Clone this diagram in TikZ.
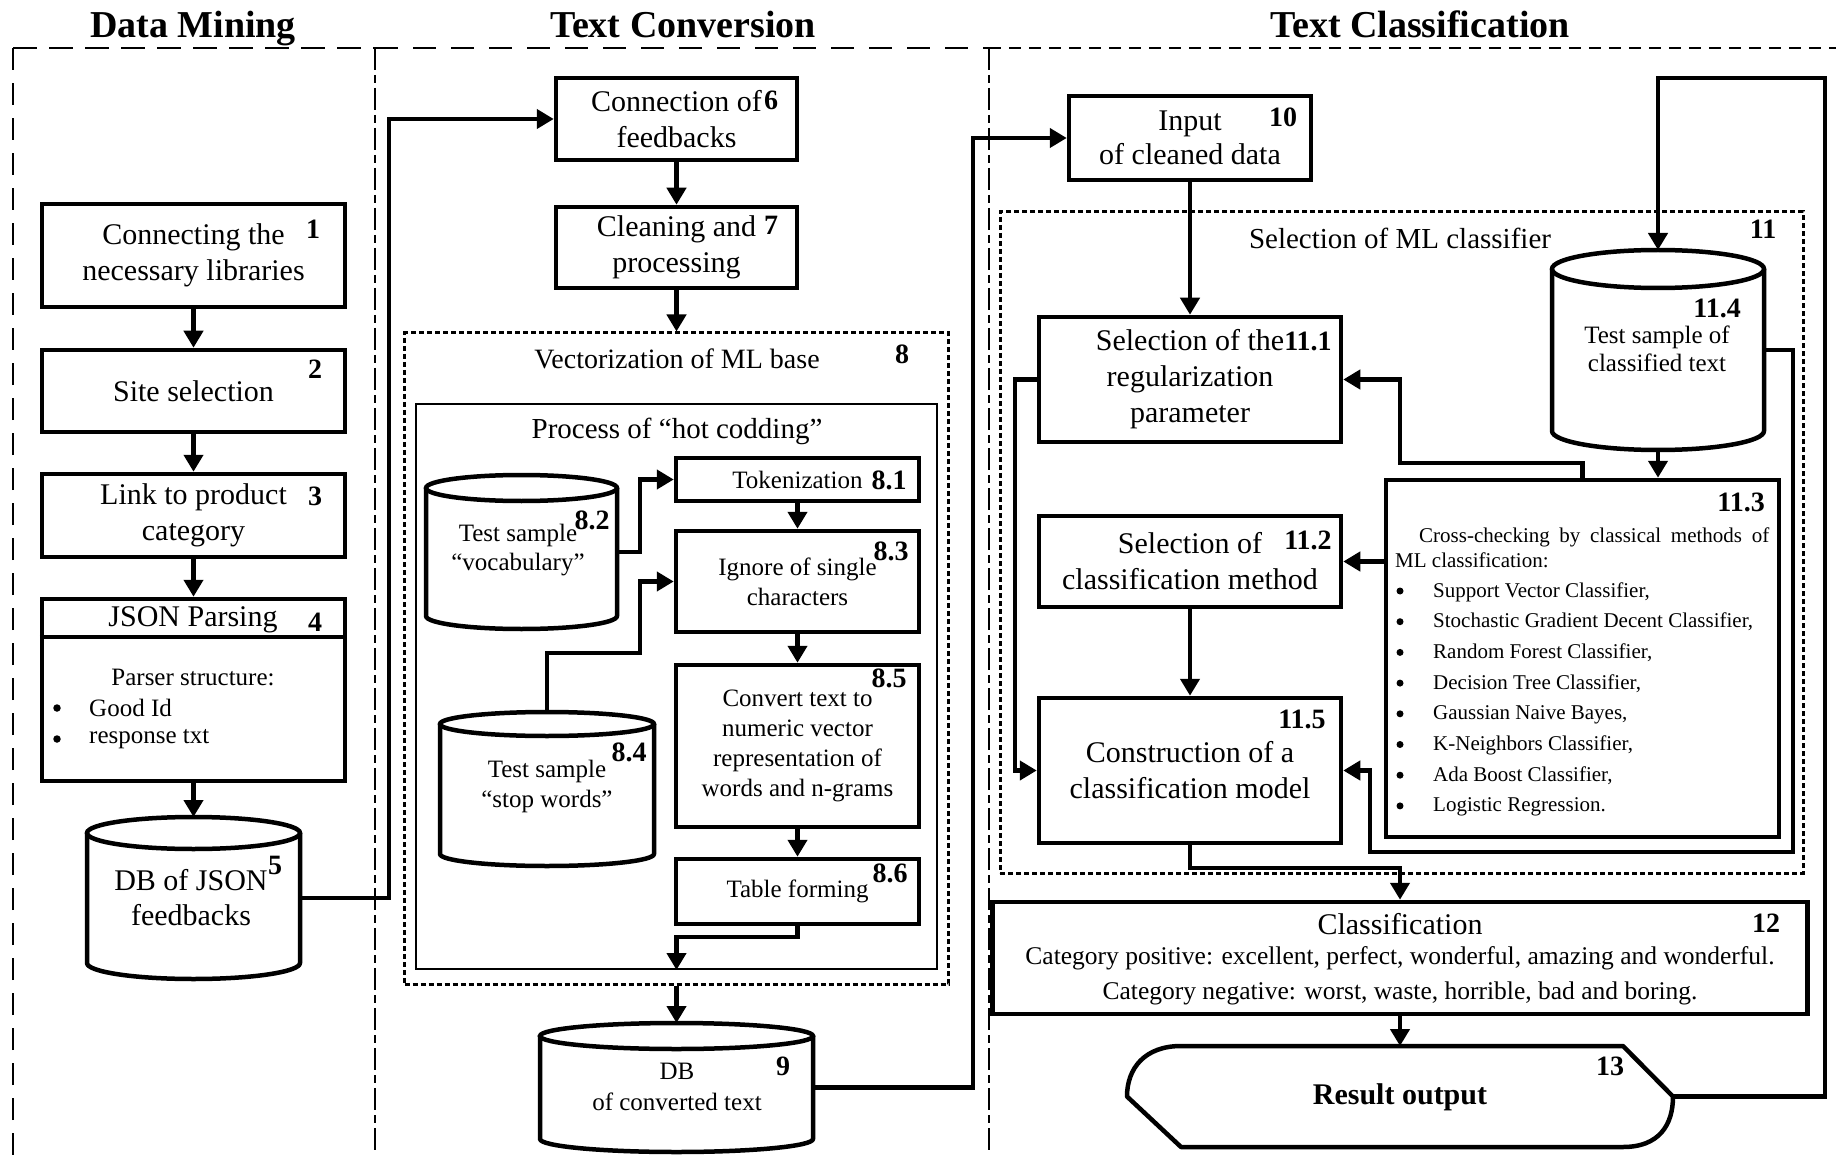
\documentclass[tikz,border=0pt]{standalone}
\usepackage{fontspec}
\setmainfont{Liberation Serif}
\usetikzlibrary{arrows.meta}
\newcommand\fsM{\fontsize{30}{36}\selectfont}
\newcommand\fsS{\fontsize{25}{30}\selectfont}
\newcommand\fsX{\fontsize{21}{25}\selectfont}
\newcommand\fsN{\bfseries\fontsize{28}{28}\selectfont}
\newcommand\fsT{\bfseries\fontsize{38}{38}\selectfont}
% cylinder outline: x1 y1 x2 y2 ry
\newcommand\cylshape[5]{%
  \draw[line width=4.5pt, line join=round]
   (#1,{#2+#5}) -- (#1,{#4-#5})
   .. controls (#1,{#4-#5+0.5523*#5}) and ({(#1+#3)/2-0.5523*(#3-#1)/2},#4) .. ({(#1+#3)/2},#4)
   .. controls ({(#1+#3)/2+0.5523*(#3-#1)/2},#4) and (#3,{#4-#5+0.5523*#5}) .. (#3,{#4-#5})
   -- (#3,{#2+#5});
  \draw[line width=4.5pt] ({(#1+#3)/2},{#2+#5}) ellipse [x radius={(#3-#1)/2}, y radius=#5];
}
\begin{document}
\begin{tikzpicture}[x=1pt,y=-1pt,
  box/.style={draw, line width=4.5pt, inner sep=0pt, align=center, font=\fsM},
  dotbox/.style={draw, line width=3pt, dash pattern=on 5pt off 3pt, inner sep=0pt},
  ghost/.style={inner sep=0pt, outer sep=0pt},
  conn/.style={line width=4.5pt, -{Triangle[length=17pt,width=19pt]}},
  num/.style={font=\fsN, inner sep=0pt},
  txt/.style={inner sep=0pt, align=center, font=\fsM},
  stxt/.style={inner sep=0pt, align=center, font=\fsS},
  xtxt/.style={inner sep=0pt, font=\fsX},
  ttl/.style={inner sep=0pt, font=\fsT, anchor=base},
  dot/.style={circle, fill, inner sep=0pt, minimum size=#1},
  dot/.default=7.5pt,
  pagedash/.style={line width=1.8pt},
  coldiv/.style={line width=1.8pt, dash pattern=on 22pt off 5pt on 8pt off 5pt},
]
\path[fill=white, use as bounding box] (0,0) rectangle (1836,1155);

% ---------- page frame ----------
\draw[pagedash, dash pattern=on 22pt off 13pt] (13,1155) -- (13,48);
\draw[pagedash, dash pattern=on 24pt off 12pt] (13,48) -- (375,48);
\draw[pagedash, dash pattern=on 23pt off 15pt] (375,48) -- (989,48);
\draw[pagedash, dash pattern=on 12pt off 8pt] (989,48) -- (1836,48);
\draw[coldiv] (375,48) -- (375,1155);
\draw[coldiv] (989,48) -- (989,1155);

\node[ttl] (t1) at (193,38) {Data Mining};
\node[ttl] (t2) at (683,38) {Text Conversion};
\node[ttl] (t3) at (1420,38) {Text Classification};

% ---------- Data Mining ----------
\node[box, minimum width=303pt, minimum height=103pt] (b1) at (193.5,255.5) {Connecting the\\necessary libraries};
\node[num] at (313,229) {1};
\node[box, minimum width=303pt, minimum height=82pt] (b2) at (193.5,391) {Site selection};
\node[num] at (315,369) {2};
\node[box, minimum width=303pt, minimum height=83pt] (b3) at (193.5,515.5) {Link to product\\category};
\node[num] at (315,496) {3};
\node[box, minimum width=303pt, minimum height=182pt] (b4) at (193.5,690) {};
\draw[line width=4.5pt] (b4.west |- 0,637) -- (b4.east |- 0,637);
\node[txt] (b4h) at (193,620) {JSON Parsing};
\node[num] at (315,622) {4};
\node[stxt] (b4t) at (193,677) {Parser structure:};
\node[dot] (b4d1) at (57,708) {};
\node[stxt, anchor=west] (b4i1) at (89,708) {Good Id};
\node[dot] (b4d2) at (57,739) {};
\node[stxt, anchor=west] (b4i2) at (89,739) {response txt};

\node[ghost, minimum width=213pt, minimum height=162pt] (c5) at (193.5,898) {};
\cylshape{87}{817}{300}{979}{16}
\node[txt, font=\fontsize{30}{35}\selectfont] at (191,898) {DB of JSON\\feedbacks};
\node[num] at (275,865) {5};

\draw[conn] (b1.south) -- (b2.north);
\draw[conn] (b2.south) -- (b3.north);
\draw[conn] (b3.south) -- (b4.north);
\draw[conn] (b4.south) -- (c5.north);

% ---------- Text Conversion ----------
\node[box, minimum width=241pt, minimum height=82pt] (b6) at (676.5,119) {Connection of\\feedbacks};
\node[num] at (771,100) {6};
\node[box, minimum width=241pt, minimum height=81pt] (b7) at (676.5,247.5) {Cleaning and\\processing};
\node[num] at (771,225) {7};
\draw[conn] (c5.east) -- (389,898) |- (b6.west);
\draw[conn] (b6.south) -- (b7.north);

\node[dotbox, minimum width=544pt, minimum height=651pt] (d8) at (676.5,658.5) {};
\draw[conn] (b7.south) -- (d8.north);
\node[txt, font=\fontsize{28}{28}\selectfont] at (677,359) {Vectorization of ML base};
\node[num] at (902,354) {8};
\node[draw, line width=2pt, inner sep=0pt, minimum width=521pt, minimum height=565pt] (in8) at (676.5,686.5) {};
\node[txt, font=\fontsize{29}{29}\selectfont] at (677,431) {Process of “hot codding”};

\node[box, font=\fsS, minimum width=243pt, minimum height=43pt] (b81) at (797.5,479.5) {Tokenization};
\node[num] at (889,480) {8.1};
\node[box, font=\fsS, minimum width=243pt, minimum height=101pt] (b83) at (797.5,581.5) {Ignore of single\\characters};
\node[num] at (891,551) {8.3};
\node[box, font=\fsS, minimum width=243pt, minimum height=162pt] (b85) at (797.5,746) {Convert text to\\numeric vector\\representation of\\words and n-grams};
\node[num] at (889,678) {8.5};
\node[box, font=\fsS, minimum width=243pt, minimum height=65pt] (b86) at (797.5,891.5) {Table forming};
\node[num] at (890,873) {8.6};

\node[ghost, minimum width=191pt, minimum height=154pt] (c82) at (521.5,552) {};
\cylshape{426}{475}{617}{629}{13}
\node[stxt, font=\fontsize{25}{29}\selectfont] at (518,550) {Test sample\\“vocabulary”};
\node[num] at (592,520) {8.2};
\node[ghost, minimum width=214pt, minimum height=154pt] (c84) at (547,789) {};
\cylshape{440}{712}{654}{866}{12}
\node[stxt, font=\fontsize{25}{30}\selectfont] at (547,786) {Test sample\\“stop words”};
\node[num] at (629,752) {8.4};

\draw[conn] (c82.east) -- (640,552) |- (b81.west);
\draw[conn] (c84.north) |- (640,653) |- (b83.west);
\draw[conn] (b81.south) -- (b83.north);
\draw[conn] (b83.south) -- (b85.north);
\draw[conn] (b85.south) -- (b86.north);
\draw[conn] (b86.south) -- (797.5,937) -| (in8.south);

\node[ghost, minimum width=273pt, minimum height=129pt] (c9) at (676.5,1087.5) {};
\cylshape{540}{1023}{813}{1152}{13}
\node[stxt, font=\fontsize{25}{31}\selectfont] at (677,1087) {DB\\of converted text};
\node[num] at (783,1066) {9};
\draw[conn] (d8.south) -- (c9.north);

% ---------- Text Classification ----------
\node[box, font=\fontsize{30}{34}\selectfont, minimum width=242pt, minimum height=84pt] (b10) at (1190,138) {Input\\of cleaned data};
\node[num] at (1283,117) {10};
\draw[conn] (c9.east) -- (973,1087.5) |- (b10.west);
\node[dotbox, minimum width=803pt, minimum height=661pt] (d11) at (1401.5,542.5) {};
\node[txt, font=\fontsize{29}{29}\selectfont] at (1400,238) {Selection of ML classifier};
\node[num] at (1763,229) {11};

\node[box, minimum width=302pt, minimum height=125pt] (b111) at (1190,379.5) {Selection of the\\regularization\\parameter};
\node[num] at (1308,341) {11.1};
\node[box, minimum width=302pt, minimum height=91pt] (b112) at (1190,561.5) {Selection of\\classification method};
\node[num] at (1308,540) {11.2};
\node[box, minimum width=302pt, minimum height=145pt] (b115) at (1190,770.5) {Construction of a\\classification model};
\node[num] at (1302,719) {11.5};

\node[box, minimum width=393pt, minimum height=357pt] (b113) at (1582.5,658.5) {};
\node[num] at (1741,502) {11.3};
\node[xtxt, anchor=west] at (1419,537) {\makebox[350pt][s]{Cross-checking by classical methods of}\strut};
\node[xtxt, anchor=west] at (1395,562) {ML classification:\strut};
\foreach \t [count=\i from 0] in {{Support Vector Classifier,},{Stochastic Gradient Decent Classifier,},{Random Forest Classifier,},{Decision Tree Classifier,},{Gaussian Naive Bayes,},{K-Neighbors Classifier,},{Ada Boost Classifier,},{Logistic Regression.}}{
  \node[dot=7pt] at (1400,{591+30.7*\i}) {};
  \node[xtxt, anchor=west] at (1433,{592+30.7*\i}) {\t\strut};
}

\node[ghost, minimum width=212pt, minimum height=200pt] (c114) at (1658,350) {};
\cylshape{1552}{250}{1764}{450}{19}
\node[stxt, font=\fontsize{25}{28}\selectfont] at (1657,349) {Test sample of\\classified text};
\node[num] at (1717,308) {11.4};

\draw[conn] (b10.south) -- (b111.north);
\draw[conn] (b113.west |- b112.east) -- (b112.east);
\draw[conn] (b112.south) -- (b115.north);
\draw[conn] (c114.south) -- (c114.south |- b113.north);
\draw[conn] (b113.north) |- (1400,463) |- (b111.east);
\draw[conn] (b111.west) -- (1015,379.5) |- (b115.west);
\draw[conn] (c114.east) -- (1793,350) |- (1370,852) |- (b115.east);

\node[box, minimum width=815pt, minimum height=112pt] (b12) at (1400,958) {};
\node[txt] at (1400,924) {Classification};
\node[num] at (1766,923) {12};
\node[stxt, font=\fontsize{25.5}{30}\selectfont] at (1400,958) {Category positive: excellent, perfect, wonderful, amazing and wonderful.};
\node[stxt, font=\fontsize{25.5}{30}\selectfont] at (1400,993) {Category negative: worst, waste, horrible, bad and boring.};
\draw[conn] (b115.south) |- (1400,868) -- (b12.north);

\node[ghost, minimum width=546pt, minimum height=101pt] (b13) at (1400,1096.5) {};
\draw[line width=4.5pt, line join=round] (b13.west) -- (1181,1147) -- (1623,1147)
  .. controls (1659,1147) and (1673,1125) .. (b13.east) -- (1623,1046) -- (1181,1046)
  .. controls (1145,1046) and (1127,1068) .. (b13.west) -- cycle;
\node[num] at (1610,1066) {13};
\node[inner sep=0pt, font=\bfseries\fontsize{30}{30}\selectfont] at (1400,1097) {Result output};
\draw[conn] (b12.south) -- (b13.north);
\draw[conn] (b13.east) -| (1825,78) -| (c114.north);
\end{tikzpicture}
\end{document}
